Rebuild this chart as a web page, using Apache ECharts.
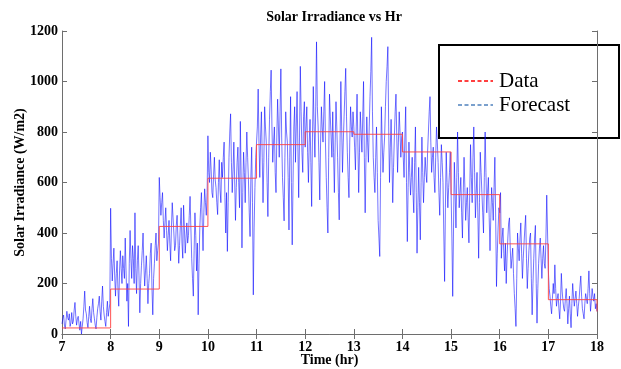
<!DOCTYPE html>
<html>
<head>
<meta charset="utf-8">
<script src="https://cdn.jsdelivr.net/npm/echarts@6/dist/echarts.min.js"></script>
<style>
  html, body { margin: 0; padding: 0; background: #fff; }
  #chart { width: 621px; height: 369px; }
</style>
</head>
<body>
<div id="chart"></div>
<script>
// hourly measured irradiance (step line), value holds from the hour to the next
const dataHours = [7, 8, 9, 10, 11, 12, 13, 14, 15, 16, 17, 18, 18];
const dataValues = [24, 178, 426, 617, 750, 801, 791, 721, 552, 357, 136, 136, 89];

// forecast samples, one per minute, grouped per hour
const sampleMinutes = 1;
const forecastHour7 = [40, 60, 75, 35, 20, 55, 90, 65, 55, 80, 30, 45, 85, 40, 50, 95, 125, 70, 35, 60, 70, 40, 15, 50, 0, 30, 60, 110, 170, 95, 80, 45, 25, 70, 110, 60, 45, 100, 140, 85, 60, 35, 20, 65, 100, 120, 150, 90, 55, 130, 190, 110, 75, 50, 30, 85, 130, 70, 95, 120];
const forecastHour8 = [498, 300, 210, 280, 340, 230, 150, 240, 290, 180, 110, 250, 330, 260, 200, 310, 260, 220, 380, 250, 130, 200, 30, 280, 410, 300, 220, 350, 300, 200, 480, 260, 160, 290, 350, 230, 84, 200, 270, 330, 400, 280, 190, 250, 310, 220, 120, 200, 240, 320, 360, 180, 76, 220, 280, 350, 400, 290, 330, 360];
const forecastHour9 = [620, 540, 470, 520, 560, 450, 380, 440, 500, 410, 330, 390, 450, 360, 290, 420, 520, 460, 400, 330, 350, 430, 470, 380, 280, 350, 430, 500, 360, 300, 510, 420, 320, 380, 440, 360, 390, 470, 545, 420, 300, 220, 150, 330, 480, 390, 250, 360, 76, 280, 420, 500, 560, 440, 330, 480, 575, 520, 470, 560];
const forecastHour10 = [785, 640, 600, 720, 650, 560, 540, 630, 700, 610, 580, 520, 473, 600, 690, 570, 520, 680, 620, 700, 760, 540, 400, 560, 327, 520, 700, 800, 872, 680, 560, 650, 760, 610, 450, 580, 680, 740, 600, 500, 842, 620, 341, 560, 720, 640, 520, 680, 800, 700, 610, 480, 386, 620, 740, 520, 155, 420, 580, 700];
const forecastHour11 = [700, 820, 970, 760, 620, 780, 880, 700, 520, 680, 900, 820, 760, 600, 465, 700, 850, 960, 1045, 820, 680, 760, 820, 640, 560, 780, 930, 820, 700, 880, 1050, 780, 620, 540, 448, 700, 880, 800, 760, 620, 412, 700, 940, 600, 353, 600, 820, 900, 680, 820, 960, 740, 540, 780, 1060, 880, 720, 640, 860, 920];
const forecastHour12 = [740, 820, 900, 720, 600, 760, 850, 680, 505, 780, 980, 820, 700, 900, 1157, 900, 820, 680, 531, 760, 900, 820, 760, 880, 1000, 760, 620, 500, 400, 700, 950, 860, 780, 700, 880, 720, 560, 760, 920, 820, 700, 560, 452, 760, 1000, 820, 640, 760, 860, 960, 1052, 860, 720, 620, 540, 760, 900, 820, 780, 880];
const forecastHour13 = [820, 740, 650, 820, 950, 760, 560, 720, 880, 800, 720, 860, 1000, 700, 480, 700, 860, 760, 680, 820, 940, 1040, 1175, 880, 700, 620, 560, 700, 820, 640, 450, 380, 307, 620, 900, 760, 640, 720, 780, 900, 1000, 1060, 1138, 820, 600, 740, 850, 700, 520, 660, 780, 880, 950, 780, 640, 760, 880, 800, 700, 780];
const forecastHour14 = [800, 700, 620, 780, 900, 600, 366, 580, 760, 640, 550, 620, 700, 560, 480, 680, 820, 560, 320, 500, 660, 520, 373, 600, 780, 640, 520, 620, 700, 640, 600, 720, 800, 880, 940, 760, 640, 700, 740, 620, 560, 700, 820, 760, 680, 560, 470, 620, 750, 680, 600, 400, 208, 500, 720, 600, 500, 580, 640, 720];
const forecastHour15 = [560, 380, 149, 420, 680, 560, 420, 620, 800, 640, 500, 560, 620, 480, 380, 560, 700, 580, 450, 520, 580, 460, 361, 560, 750, 620, 520, 700, 820, 640, 460, 560, 640, 480, 300, 520, 720, 640, 560, 480, 400, 620, 800, 640, 480, 560, 620, 460, 330, 460, 580, 520, 450, 580, 700, 460, 188, 320, 420, 500];
const forecastHour16 = [480, 560, 300, 380, 420, 320, 250, 360, 200, 300, 380, 440, 460, 340, 260, 300, 340, 240, 160, 100, 30, 220, 400, 340, 290, 380, 440, 320, 220, 300, 360, 420, 470, 300, 180, 260, 330, 380, 400, 220, 76, 200, 300, 380, 430, 200, 43, 180, 280, 340, 380, 300, 220, 300, 350, 280, 260, 380, 550, 400];
const forecastHour17 = [250, 180, 150, 110, 80, 140, 200, 160, 274, 180, 110, 140, 160, 100, 60, 130, 240, 170, 130, 100, 90, 140, 180, 120, 40, 100, 150, 80, 25, 120, 200, 150, 110, 140, 170, 120, 70, 110, 140, 190, 230, 150, 100, 80, 60, 120, 160, 140, 120, 180, 250, 160, 90, 130, 180, 150, 130, 160, 100, 120];
const forecastLast = [90];

const xTicks = [7, 8, 9, 10, 11, 12, 13, 14, 15, 16, 17, 18];
const yTicks = [0, 200, 400, 600, 800, 1000, 1200];

const forecastValues = [].concat(
  forecastHour7, forecastHour8, forecastHour9, forecastHour10, forecastHour11,
  forecastHour12, forecastHour13, forecastHour14, forecastHour15, forecastHour16,
  forecastHour17, forecastLast
);
const forecastSeries = forecastValues.map((v, i) => [7 + (i * sampleMinutes) / 60, v]);
const dataSeries = dataHours.map((h, i) => [h, dataValues[i]]);

const serif = '"Liberation Serif", "Times New Roman", serif';
const axisColor = '#6e6e6e';
const boldText = { fontFamily: serif, fontSize: 14, fontWeight: 'bold', color: '#000' };

function baseAxis(extra) {
  return Object.assign({
    type: 'value',
    nameMoveOverlap: false,
    axisLine: { show: true, lineStyle: { color: axisColor, width: 1 } },
    axisTick: { show: true, inside: true, length: 5, lineStyle: { color: axisColor } },
    splitLine: { show: false }
  }, extra);
}

const chart = echarts.init(document.getElementById('chart'));
chart.setOption({
  animation: false,
  backgroundColor: '#fff',
  title: {
    text: 'Solar Irradiance vs Hr',
    left: 329,
    textAlign: 'center',
    top: 5,
    textStyle: boldText
  },
  grid: { left: 62, right: 24, top: 31, bottom: 35, outerBoundsMode: 'none', containLabel: false },
  xAxis: [
    baseAxis({
      min: xTicks[0], max: xTicks[xTicks.length - 1], interval: 1,
      name: 'Time (hr)', nameLocation: 'middle', nameGap: 19,
      nameTextStyle: boldText,
      axisLabel: Object.assign({ margin: 6 }, boldText)
    }),
    baseAxis({
      position: 'top',
      min: xTicks[0], max: xTicks[xTicks.length - 1], interval: 1,
      axisLabel: { show: false }
    })
  ],
  yAxis: [
    baseAxis({
      min: yTicks[0], max: yTicks[yTicks.length - 1], interval: 200,
      name: 'Solar Irradiance (W/m2)', nameLocation: 'middle', nameGap: 35,
      nameTextStyle: boldText,
      axisLabel: Object.assign({ margin: 4, formatter: (v) => String(v) }, boldText)
    }),
    baseAxis({
      position: 'right',
      min: yTicks[0], max: yTicks[yTicks.length - 1], interval: 200,
      axisLabel: { show: false }
    })
  ],
  series: [
    {
      name: 'Forecast',
      type: 'line',
      data: forecastSeries,
      showSymbol: false,
      lineStyle: { color: '#0000ff', width: 1, opacity: 0.55 },
      z: 2
    },
    {
      name: 'Data',
      type: 'line',
      step: 'end',
      data: dataSeries,
      showSymbol: false,
      lineStyle: { color: '#ff4040', width: 1, opacity: 0.9 },
      z: 3
    }
  ],
  graphic: [
    {
      type: 'group',
      z: 100,
      children: [
        {
          type: 'rect',
          shape: { x: 439, y: 45, width: 180, height: 93 },
          style: { fill: '#fff', stroke: '#000', lineWidth: 2 }
        },
        {
          type: 'line',
          shape: { x1: 458, y1: 81, x2: 493, y2: 81 },
          style: { stroke: '#ff0000', lineWidth: 1.5, lineDash: [4, 2.5] }
        },
        {
          type: 'text',
          x: 499, y: 81,
          style: { text: 'Data', fontFamily: serif, fontSize: 21, fill: '#000', verticalAlign: 'middle' }
        },
        {
          type: 'line',
          shape: { x1: 458, y1: 105, x2: 493, y2: 105 },
          style: { stroke: '#4f81bd', lineWidth: 1.5, lineDash: [4, 2.5] }
        },
        {
          type: 'text',
          x: 499, y: 105,
          style: { text: 'Forecast', fontFamily: serif, fontSize: 21, fill: '#000', verticalAlign: 'middle' }
        }
      ]
    }
  ]
});
</script>
</body>
</html>
